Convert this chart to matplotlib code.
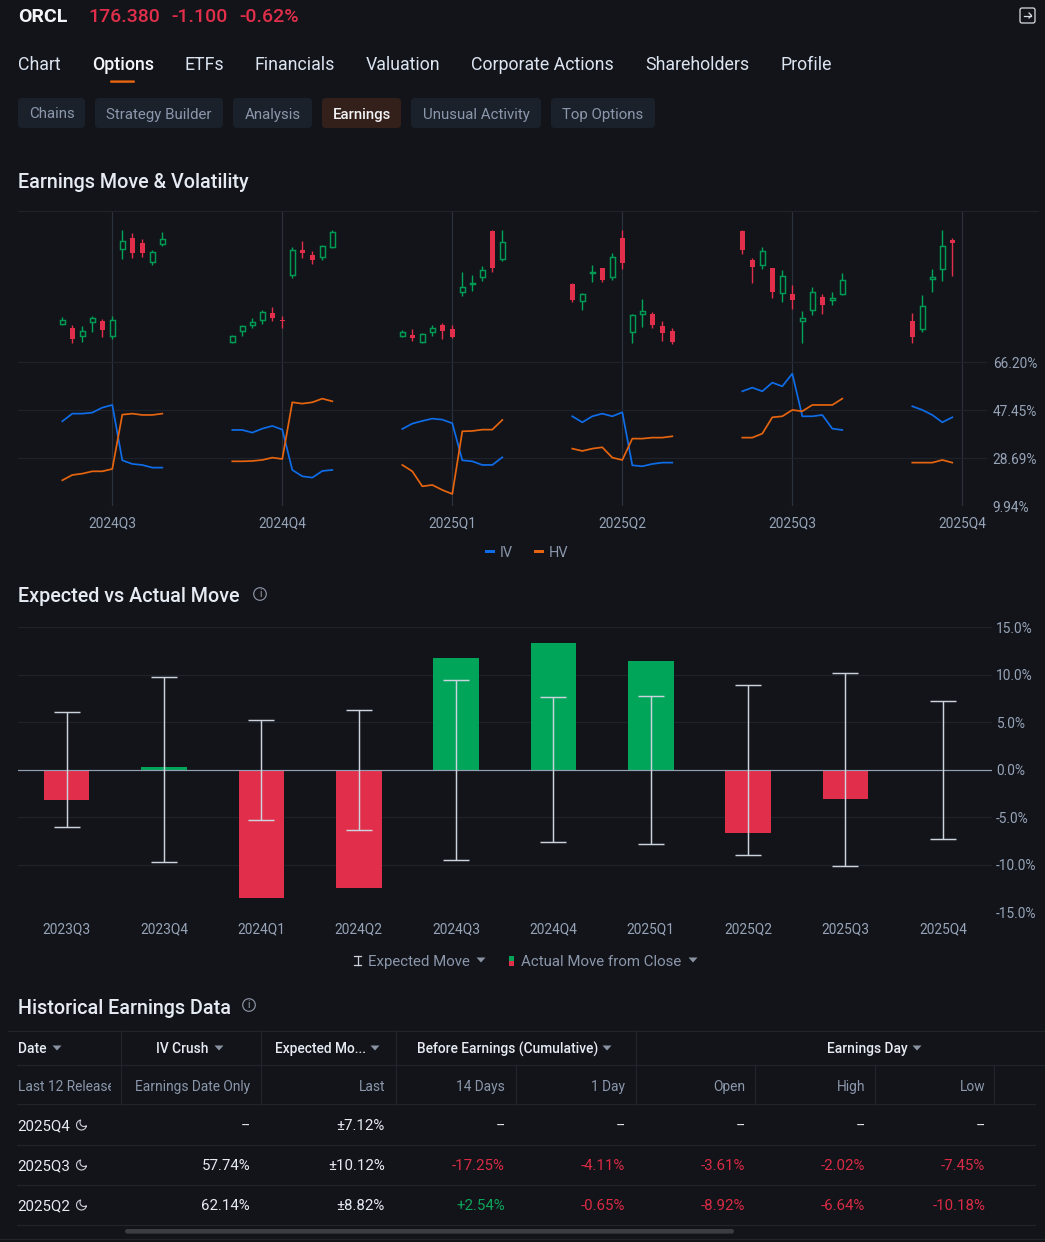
import numpy as np
import matplotlib
matplotlib.use('Agg')
import matplotlib.pyplot as plt
from matplotlib.patches import FancyBboxPatch, Polygon, Circle, Rectangle

plt.rcParams['font.family'] = ['Roboto', 'DejaVu Sans']

W, H = 1045, 1242
BG = '#121419'
GRID = '#1e222a'
VLINE = '#2b323e'
RED = '#e12f4b'
GREEN = '#00a55a'
BLUE = '#0f6ce8'
ORANGE = '#e5640f'
TICK = '#97a4b8'
MUTED = '#8b97ab'
WHITE = '#e6ebf3'

# earnings quarters in the top panel
QUARTERS_TOP = ['2024Q3', '2024Q4', '2025Q1', '2025Q2', '2025Q3', '2025Q4']
IV_TICKS = [9.94, 28.69, 47.45, 66.20]

# candles as (open, high, low, close) on a relative level, one list per earnings window
CANDLES_1 = [(143, 163, 139, 154), (131, 139, 85, 97), (106, 136, 90, 121), (150, 166, 119, 162),
             (152, 158, 105, 124), (108, 166, 99, 154), (368, 426, 338, 393), (401, 416, 341, 356),
             (386, 398, 344, 356), (329, 366, 319, 358), (384, 418, 377, 397)]
CANDLES_2 = [(89, 109, 85, 106), (123, 140, 108, 138), (139, 160, 130, 149), (156, 184, 143, 180),
             (176, 194, 153, 161), (155, 167, 131, 152), (291, 373, 280, 365), (365, 392, 341, 357),
             (350, 361, 323, 335), (343, 379, 335, 377), (373, 426, 371, 420)]
CANDLES_3 = [(108, 124, 105, 119), (110, 128, 93, 101), (90, 117, 85, 114), (118, 139, 108, 131),
             (141, 145, 98, 123), (129, 139, 100, 104), (238, 300, 227, 255), (262, 290, 243, 267),
             (283, 317, 272, 306), (422, 425, 300, 312), (339, 426, 333, 390)]
CANDLES_4 = [(264, 265, 209, 215), (213, 237, 186, 234), (295, 320, 269, 300), (310, 312, 269, 275),
             (285, 356, 275, 343), (400, 426, 307, 327), (118, 173, 87, 171), (174, 218, 133, 181),
             (173, 179, 132, 140), (137, 152, 93, 116), (122, 130, 84, 90)]
CANDLES_5 = [(422, 426, 353, 365), (334, 341, 266, 314), (321, 373, 307, 361), (310, 312, 222, 239),
             (235, 304, 209, 288), (234, 260, 189, 214), (152, 181, 85, 161), (184, 255, 169, 238),
             (225, 232, 174, 201), (215, 239, 201, 220), (232, 295, 231, 274)]
CANDLES_6 = [(152, 177, 85, 103), (129, 231, 120, 196), (278, 307, 239, 283), (307, 426, 273, 378),
             (395, 400, 288, 387)]

IV_1 = [43.15, 46.14, 46.14, 46.53, 48.49, 49.53, 27.91, 26.48, 26.09, 25.05, 25.05]
IV_2 = [39.76, 39.76, 38.72, 40.28, 41.33, 39.89, 24.14, 21.66, 21.14, 23.74, 24.14]
IV_3 = [40.15, 42.24, 43.28, 44.19, 43.80, 42.37, 27.91, 27.52, 26.09, 26.09, 29.08]
IV_4 = [45.10, 42.76, 45.10, 46.14, 45.10, 46.67, 25.96, 25.57, 26.48, 27.00, 27.00]
IV_5 = [54.87, 56.30, 54.87, 58.26, 56.82, 61.77, 45.10, 45.10, 45.62, 40.28, 39.76]
IV_6 = [49.01, 47.58, 45.62, 42.76, 44.71]

HV_1 = [20.10, 22.18, 22.70, 23.61, 23.61, 24.53, 45.75, 46.14, 45.62, 45.62, 46.14]
HV_2 = [27.52, 27.52, 27.65, 28.04, 28.95, 28.43, 50.57, 50.05, 50.57, 52.00, 50.96]
HV_3 = [26.09, 23.61, 17.75, 18.27, 16.32, 14.76, 39.24, 39.37, 39.89, 39.89, 43.67]
HV_4 = [32.47, 31.56, 32.47, 32.99, 28.95, 28.04, 36.38, 36.38, 36.77, 36.77, 37.29]
HV_5 = [36.77, 36.77, 38.33, 44.71, 45.10, 47.58, 47.06, 49.53, 49.53, 49.53, 52.00]
HV_6 = [27.00, 27.00, 27.00, 28.04, 27.00]

# expected vs actual move
QUARTERS_MOVE = ['2023Q3', '2023Q4', '2024Q1', '2024Q2', '2024Q3', '2024Q4',
                 '2025Q1', '2025Q2', '2025Q3', '2025Q4']
ACTUAL_MOVE = [-3.19, 0.28, -13.5, -12.46, 11.79, 13.37, 11.47, -6.67, -3.09, np.nan]
EXPECTED_MOVE = [6.05, 9.75, 5.27, 6.3, 9.48, 7.63, 7.77, 8.95, 10.14, 7.27]
MOVE_TICKS = [-15, -10, -5, 0, 5, 10, 15]

# page text
NAV_LABELS = ['Chart', 'Options', 'ETFs', 'Financials', 'Valuation', 'Corporate Actions', 'Shareholders', 'Profile']
TAB_LABELS = ['Chains', 'Strategy Builder', 'Analysis', 'Earnings', 'Unusual Activity', 'Top Options']

TABLE_SUBHEAD = ['Earnings Date Only', 'Last', '14 Days', '1 Day', 'Open', 'High', 'Low']
TABLE_DATES = ['2025Q4', '2025Q3', '2025Q2']
TABLE_ROWS = [
    ['--', '±7.12%', '--', '--', '--', '--', '--'],
    ['57.74%', '±10.12%', '-17.25%', '-4.11%', '-3.61%', '-2.02%', '-7.45%'],
    ['62.14%', '±8.82%', '+2.54%', '-0.65%', '-8.92%', '-6.64%', '-10.18%'],
]


def px(size):
    # font size given in css pixels
    return size * 72 / 100


def axes_box(left, top, right, bottom):
    return [left / W, 1 - bottom / H, (right - left) / W, (bottom - top) / H]


def draw_candles(ax, center, candles):
    for i, (o, h, l, c) in enumerate(candles):
        x = center - 5 + i
        up = c >= o
        color = GREEN if up else RED
        ax.vlines(x, l, h, color=color, linewidth=1.0, zorder=3)
        if up:
            ax.bar(x, c - o, bottom=o, width=0.52, facecolor=BG, edgecolor='#009a54', linewidth=1.05, zorder=4)
        else:
            ax.bar(x, o - c, bottom=c, width=0.5, facecolor=color, edgecolor=color, linewidth=0, zorder=4)


def draw_top_panel(fig):
    ax = fig.add_axes(axes_box(18, 210.5, 987, 506.3))
    ax.set_facecolor('none')
    ax.set_xlim(-9.43, 87.47)
    ax.set_ylim(9.94, 125.5)
    ax.set_xticks([17 * k for k in range(len(QUARTERS_TOP))])
    ax.set_xticklabels(QUARTERS_TOP)
    ax.yaxis.tick_right()
    ax.set_yticks(IV_TICKS)
    ax.set_yticklabels([f'{t:.2f}%' for t in IV_TICKS])
    ax.tick_params(axis='x', length=0, pad=7.5, labelsize=px(13.8), labelcolor=TICK)
    ax.tick_params(axis='y', length=0, pad=4.2, labelsize=px(13.8), labelcolor=TICK)
    ax.grid(True, axis='y', color=GRID, linewidth=0.85)
    ax.grid(True, axis='x', color=VLINE, linewidth=0.85)
    ax.set_axisbelow(True)
    for s in ax.spines.values():
        s.set_visible(False)

    iv_groups = [IV_1, IV_2, IV_3, IV_4, IV_5, IV_6]
    hv_groups = [HV_1, HV_2, HV_3, HV_4, HV_5, HV_6]
    for k, (iv, hv) in enumerate(zip(iv_groups, hv_groups)):
        xs = np.arange(len(iv)) + 17 * k - 5
        ax.plot(xs, iv, color=BLUE, linewidth=1.25, zorder=3)
        ax.plot(xs, hv, color=ORANGE, linewidth=1.25, zorder=3)

    # candles have their own scale, it shares the panel but not the percent axis
    price = fig.add_axes(axes_box(18, 210.5, 987, 506.3), sharex=ax)
    price.set_facecolor('none')
    price.set_ylim(-404, 483)
    price.axis('off')
    groups = [CANDLES_1, CANDLES_2, CANDLES_3, CANDLES_4, CANDLES_5, CANDLES_6]
    for k, candles in enumerate(groups):
        draw_candles(price, 17 * k, candles)
    price.set_xlim(-9.43, 87.47)


def draw_move_panel(fig):
    ax = fig.add_axes(axes_box(18, 627.3, 991.5, 912.3))
    ax.set_facecolor('none')
    ax.set_xlim(-0.5, 9.5)
    ax.set_ylim(-15, 15)
    xs = np.arange(len(QUARTERS_MOVE))
    actual = np.array(ACTUAL_MOVE)
    expected = np.array(EXPECTED_MOVE)
    mask = ~np.isnan(actual)
    colors = [GREEN if v >= 0 else RED for v in actual[mask]]
    ax.bar(xs[mask], actual[mask], width=0.468, color=colors, zorder=2)
    ax.axhline(0, color='#939fb3', linewidth=0.85, zorder=3)
    ax.errorbar(xs, np.zeros(len(xs)), yerr=expected, fmt='none', ecolor='#cdd3dd',
                elinewidth=1.05, capsize=px(13), capthick=1.05, zorder=4)
    ax.set_xticks(xs)
    ax.set_xticklabels(QUARTERS_MOVE)
    ax.yaxis.tick_right()
    ax.set_yticks(MOVE_TICKS)
    ax.set_yticklabels([f'{t:.1f}%' for t in MOVE_TICKS])
    ax.tick_params(axis='x', length=0, pad=7.5, labelsize=px(13.8), labelcolor=TICK)
    ax.tick_params(axis='y', length=0, pad=3.2, labelsize=px(13.8), labelcolor=TICK)
    ax.grid(True, axis='y', color=GRID, linewidth=0.85)
    ax.set_axisbelow(True)
    for s in ax.spines.values():
        s.set_visible(False)


def caret(ov, x, y, size=4.5, color='#8b93a3'):
    ov.add_patch(Polygon([(x - size, y - 2.5), (x + size, y - 2.5), (x, y + 2.5)], closed=True,
                         facecolor=color, edgecolor='none'))


def info_icon(ov, x, y):
    ov.add_patch(Circle((x, y), 6.3, facecolor='none', edgecolor='#8b93a3', linewidth=0.85))
    ov.text(x, y + 0.3, 'i', color='#a0a8b6', fontsize=px(10), ha='center', va='center')


def moon_icon(ov, x, y):
    a = np.radians(np.linspace(8, 262, 30))
    b = np.radians(np.linspace(218, 52, 30))
    xs = np.r_[5 * np.cos(a), 2.5 + 4 * np.cos(b)] + x
    ys = np.r_[5 * np.sin(a), -2.5 + 4 * np.sin(b)] + y
    ov.add_patch(Polygon(np.c_[xs, ys], closed=True, facecolor='none', edgecolor='#c9ced8', linewidth=0.8))


def draw_page(ov):
    # header line
    ov.text(18, 17, 'ORCL', color='#f2f4f8', fontsize=px(19.5), fontweight='bold', va='center')
    for x, t in zip([88, 171, 239], ['176.380', '-1.100', '-0.62%']):
        ov.text(x, 17, t, color=RED, fontsize=px(19.5), fontweight='medium', va='center')
    ov.add_patch(FancyBboxPatch((1020, 8), 15, 15, boxstyle='round,pad=0,rounding_size=2',
                                facecolor='none', edgecolor='#d9dde4', linewidth=0.9))
    ov.plot([1024, 1031], [15.5, 15.5], color='#d9dde4', lw=0.9)
    ov.plot([1029, 1031.5, 1029], [13, 15.5, 18], color='#d9dde4', lw=0.9)

    # nav
    for x, t in zip([18, 92, 184, 255, 366, 471, 645, 780], NAV_LABELS):
        active = t == 'Options'
        ov.text(x, 65, t, color='#f2f5fa' if active else '#dbe4f0', fontsize=px(17.7),
                fontweight='medium' if active else 'normal', va='center')
    ov.add_patch(FancyBboxPatch((110, 80.4), 25, 2.4, boxstyle='round,pad=0,rounding_size=1.2',
                                facecolor=ORANGE, edgecolor='none'))

    # tabs
    spans = [(18, 85), (95, 223), (233, 312), (322, 401), (411, 541), (551, 655)]
    for (a, b), t in zip(spans, TAB_LABELS):
        on = t == 'Earnings'
        ov.add_patch(FancyBboxPatch((a, 98), b - a, 30, boxstyle='round,pad=0,rounding_size=4',
                                    facecolor='#33201a' if on else '#1b212b', edgecolor='none'))
        ov.text((a + b) / 2, 114.5, t, color='#f0f2f6' if on else MUTED, fontsize=px(15),
                fontweight='medium' if on else 'normal', ha='center', va='center')

    # section titles
    ov.text(18, 183, 'Earnings Move & Volatility', color=WHITE, fontsize=px(19.8), fontweight='medium', va='center')
    ov.text(18, 597, 'Expected vs Actual Move', color=WHITE, fontsize=px(19.8), fontweight='medium', va='center')
    info_icon(ov, 260, 594)
    ov.text(18, 1008, 'Historical Earnings Data', color=WHITE, fontsize=px(19.8), fontweight='medium', va='center')
    info_icon(ov, 249, 1005)

    # top edge of the first panel runs past the axis labels
    ov.plot([18, 1038], [210.5, 210.5], color=GRID, lw=0.85)

    # legends
    ov.add_patch(Rectangle((485, 550.3), 10, 2.4, facecolor=BLUE, edgecolor='none'))
    ov.text(500, 553, 'IV', color=MUTED, fontsize=px(14.5), va='center')
    ov.add_patch(Rectangle((534, 550.3), 10, 2.4, facecolor=ORANGE, edgecolor='none'))
    ov.text(549, 553, 'HV', color=MUTED, fontsize=px(14.5), va='center')

    ov.plot([354, 361], [956, 956], color='#cdd3dd', lw=0.9)
    ov.plot([354, 361], [964.5, 964.5], color='#cdd3dd', lw=0.9)
    ov.plot([357.5, 357.5], [956, 964.5], color='#cdd3dd', lw=0.9)
    ov.text(368, 962, 'Expected Move', color=MUTED, fontsize=px(15), va='center')
    caret(ov, 481, 960)
    ov.add_patch(Rectangle((509, 955.5), 5, 5, facecolor=GREEN, edgecolor='none'))
    ov.add_patch(Rectangle((509, 960.5), 5, 5, facecolor=RED, edgecolor='none'))
    ov.text(521, 962, 'Actual Move from Close', color=MUTED, fontsize=px(15), va='center')
    caret(ov, 693, 960)


def draw_table(ov):
    line = '#20242c'
    for y, a, b in [(1030.7, 8, 1045), (1065.3, 17, 1045), (1104.3, 17, 1035),
                    (1145.3, 17, 1035), (1185.3, 17, 1035), (1225.3, 17, 1035), (1239, 0, 1045)]:
        ov.plot([a, b], [y, y], color=line, lw=0.85)
    for x in [121.3, 261.3, 396.3, 635.7]:
        ov.plot([x, x], [1030.7, 1104.3], color=line, lw=0.85)
    for x in [516.3, 755.3, 874.7, 994.3]:
        ov.plot([x, x], [1065.3, 1104.3], color=line, lw=0.85)

    heads = [(18, 'Date', 57), (156, 'IV Crush', 219), (275, 'Expected Mo...', 375),
             (417, 'Before Earnings (Cumulative)', 607), (827, 'Earnings Day', 917)]
    for x, t, cx in heads:
        ov.text(x, 1049, t, color=WHITE, fontsize=px(13.8), fontweight='medium', va='center')
        caret(ov, cx, 1048)

    ov.text(18, 1087, 'Last 12 Release', color=MUTED, fontsize=px(13.7), va='center')
    # the cell cuts the long label off
    ov.add_patch(Rectangle((110.5, 1070), 10, 30, facecolor=BG, edgecolor='none', zorder=5))
    rights = [250, 385, 505, 625, 745, 865, 985.3]
    for x, t in zip(rights, TABLE_SUBHEAD):
        ov.text(x, 1087, t, color=MUTED, fontsize=px(13.7), ha='right', va='center')

    for y, date, row in zip([1126, 1166, 1206], TABLE_DATES, TABLE_ROWS):
        ov.text(17.5, y, date, color=WHITE, fontsize=px(15), va='center')
        moon_icon(ov, 81.5, y - 1)
        for j, (x, t) in enumerate(zip(rights, row)):
            color = WHITE
            if j >= 2 and t.startswith('-') and t != '--':
                color = '#d92b45'
            elif j >= 2 and t.startswith('+'):
                color = '#0ea55a'
            ov.text(x, y, t, color=color, fontsize=px(15), ha='right', va='center')

    ov.add_patch(FancyBboxPatch((125, 1229), 609, 4.6, boxstyle='round,pad=0,rounding_size=2.3',
                                facecolor='#3a3d42', edgecolor='none'))


fig = plt.figure(figsize=(W / 100, H / 100), dpi=100, facecolor=BG)
draw_top_panel(fig)
draw_move_panel(fig)

overlay = fig.add_axes([0, 0, 1, 1])
overlay.set_facecolor('none')
overlay.set_xlim(0, W)
overlay.set_ylim(H, 0)
overlay.axis('off')
draw_page(overlay)
draw_table(overlay)

fig.savefig('out.png', dpi=100, facecolor=BG)
